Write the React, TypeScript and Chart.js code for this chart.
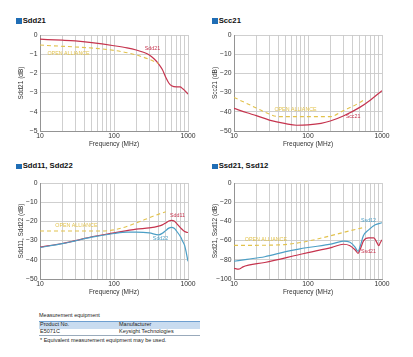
import React, { useEffect, useRef } from "react";
import { Chart, registerables } from "chart.js";

Chart.register(...registerables);

// ---------- data ----------
const xGridTicks = [10, 20, 30, 40, 50, 60, 70, 80, 90, 100, 200, 300, 400, 500, 600, 700, 800, 900, 1000];
const xLabelTicks = [10, 100, 1000];

// Sdd21
const sdd21Freq = [10, 20, 30, 50, 100, 150, 200, 250, 300, 350, 400, 450, 500, 550, 600, 700, 780, 850, 920, 1000];
const sdd21Db = [-0.22, -0.27, -0.31, -0.4, -0.56, -0.67, -0.78, -0.9, -1.04, -1.25, -1.5, -1.8, -2.2, -2.5, -2.64, -2.7, -2.7, -2.8, -2.92, -3.08];
const sdd21LimitFreq = [10, 100, 200, 300, 400];
const sdd21LimitDb = [-0.52, -0.8, -1.04, -1.27, -1.48];

// Scc21
const scc21Freq = [10, 15, 20, 30, 50, 70, 100, 150, 200, 300, 500, 700, 1000];
const scc21Db = [-38.2, -40.5, -42, -44.3, -46.2, -47, -46.8, -46, -44.8, -42.2, -37.7, -33.8, -29];
const scc21LimitFreq = [10, 20, 30, 40, 200, 300, 500, 600];
const scc21LimitDb = [-32.5, -38, -41.2, -42.5, -42.5, -39.4, -35.2, -33.2];

// Sdd11, Sdd22
const sdd11Freq = [10, 20, 30, 50, 100, 150, 200, 300, 400, 450, 500, 550, 600, 650, 700, 800, 900, 1000];
const sdd11Db = [-33.4, -31.5, -30, -28, -26, -24.8, -24, -23.4, -22.5, -21.8, -20.8, -19.8, -19.5, -19.8, -21, -23.5, -25.3, -25.8];
const sdd22Freq = [10, 20, 30, 50, 100, 150, 200, 300, 400, 450, 500, 550, 600, 650, 700, 800, 850, 900, 950, 1000];
const sdd22Db = [-33.6, -31.6, -30.1, -28.2, -26.3, -25.6, -25.6, -26, -27, -26.2, -24.8, -23.5, -23.1, -23.6, -25, -28.3, -30.5, -32.5, -36.5, -40.8];
const sddRlLimitFreq = [10, 70, 500];
const sddRlLimitDb = [-25, -25, -15];

// Ssd21, Ssd12
const ssd12Freq = [10, 15, 26, 50, 75, 100, 211, 300, 370, 430, 475, 510, 560, 660, 810, 1000];
const ssd12Db = [-81.5, -79.5, -76.8, -71.5, -68.8, -67.2, -63.5, -60.5, -61.8, -66.5, -71.2, -65.3, -55, -48.8, -43.5, -41.4];
const ssd21Freq = [10, 11.5, 12.5, 13, 26, 75, 100, 211, 300, 370, 435, 475, 510, 565, 660, 775, 850, 905, 950, 1000];
const ssd21Db = [-88.8, -89.8, -88.6, -87.6, -82.8, -74.7, -72.5, -67, -63.8, -65.3, -69.8, -73.3, -68.8, -60, -57.2, -57.2, -61.8, -65.3, -62, -59.3];
const ssdLimitFreq = [10, 40, 600];
const ssdLimitDb = [-65, -64.5, -46];

const RED = "#c6344e";
const BLUE = "#4c9fc6";
const YELLOW = "#e2c24c";
const FONT = "'Liberation Sans', Arial, sans-serif";

type Label = { text: string; f: number; v: number; color: string };

function labelPlugin(items: Label[]) {
  return {
    id: "curveLabels",
    afterDatasetsDraw(chart: any) {
      const ctx = chart.ctx;
      const xs = chart.scales.x;
      const ys = chart.scales.y;
      ctx.save();
      ctx.font = `5.3px ${FONT}`;
      ctx.textAlign = "center";
      ctx.textBaseline = "middle";
      for (const it of items) {
        ctx.fillStyle = it.color;
        ctx.fillText(it.text, xs.getPixelForValue(it.f), ys.getPixelForValue(it.v));
      }
      ctx.restore();
    },
  };
}

function ds(freq: number[], vals: number[], color: string, dashed = false) {
  return {
    data: freq.map((f, i) => ({ x: f, y: vals[i] })),
    borderColor: color,
    borderWidth: dashed ? 1.1 : 1.2,
    borderDash: dashed ? [4, 3] : [],
    pointRadius: 0,
    cubicInterpolationMode: "monotone" as const,
    fill: false,
  };
}

function makeConfig(datasets: any[], yMin: number, yStep: number, yTitle: string, labels: Label[]) {
  const yTicks: number[] = [];
  for (let v = yMin; v <= 0.0001; v += yStep) yTicks.push(Math.round(v * 1000) / 1000);
  return {
    type: "line",
    data: { datasets },
    plugins: [labelPlugin(labels)],
    options: {
      responsive: false,
      animation: false,
      devicePixelRatio: 1,
      layout: { padding: { top: 7, right: 12, left: 0, bottom: 0 } },
      plugins: { legend: { display: false }, tooltip: { enabled: false } },
      scales: {
        x: {
          type: "logarithmic",
          min: 10,
          max: 1000,
          afterBuildTicks: (s: any) => {
            s.ticks = xGridTicks.map((v) => ({ value: v }));
          },
          afterFit: (s: any) => {
            s.height = 22;
          },
          ticks: {
            autoSkip: false,
            maxRotation: 0,
            padding: 1,
            color: "#333",
            font: { family: FONT, size: 6.8 },
            callback: (v: any) => (xLabelTicks.includes(Number(v)) ? String(v) : ""),
          },
          grid: { color: "#c9c9c9", drawTicks: false, lineWidth: 0.9 },
          border: { color: "#949494" },
          title: {
            display: true,
            text: "Frequency (MHz)",
            color: "#333",
            font: { family: FONT, size: 6.5 },
            padding: { top: 0, bottom: 5 },
          },
        },
        y: {
          type: "linear",
          min: yMin,
          max: 0,
          afterBuildTicks: (s: any) => {
            s.ticks = yTicks.map((v) => ({ value: v }));
          },
          afterFit: (s: any) => {
            s.width = 40;
          },
          ticks: {
            padding: 2.5,
            color: "#333",
            font: { family: FONT, size: 6.8 },
            callback: (v: any) => (Number(v) === 0 ? "0" : "\u2212" + Math.abs(Number(v))),
          },
          grid: { color: "#c9c9c9", drawTicks: false, lineWidth: 0.9 },
          border: { color: "#949494" },
          title: {
            display: true,
            text: yTitle,
            color: "#333",
            font: { family: FONT, size: 6.5 },
            padding: { top: 17, bottom: 0 },
          },
        },
      },
    },
  };
}

const panels = [
  {
    key: "c1",
    left: 0,
    top: 28,
    cfg: () =>
      makeConfig(
        [ds(sdd21LimitFreq, sdd21LimitDb, YELLOW, true), ds(sdd21Freq, sdd21Db, RED)],
        -5,
        1,
        "Sdd21 (dB)",
        [
          { text: "Sdd21", f: 331, v: -0.73, color: RED },
          { text: "OPEN ALLIANCE", f: 24.3, v: -0.94, color: YELLOW },
        ]
      ),
  },
  {
    key: "c2",
    left: 194,
    top: 28,
    cfg: () =>
      makeConfig(
        [ds(scc21LimitFreq, scc21LimitDb, YELLOW, true), ds(scc21Freq, scc21Db, RED)],
        -50,
        10,
        "Scc21 (dB)",
        [
          { text: "OPEN ALLIANCE", f: 67.8, v: -38.9, color: YELLOW },
          { text: "Scc21", f: 406, v: -42.6, color: RED },
        ]
      ),
  },
  {
    key: "c3",
    left: 0,
    top: 176,
    cfg: () =>
      makeConfig(
        [ds(sddRlLimitFreq, sddRlLimitDb, YELLOW, true), ds(sdd22Freq, sdd22Db, BLUE), ds(sdd11Freq, sdd11Db, RED)],
        -50,
        10,
        "Sdd11, Sdd22 (dB)",
        [
          { text: "Sdd11", f: 721, v: -17.2, color: RED },
          { text: "Sdd22", f: 425, v: -28.9, color: BLUE },
          { text: "OPEN ALLIANCE", f: 31, v: -22.1, color: YELLOW },
        ]
      ),
  },
  {
    key: "c4",
    left: 194,
    top: 176,
    cfg: () =>
      makeConfig(
        [ds(ssdLimitFreq, ssdLimitDb, YELLOW, true), ds(ssd21Freq, ssd21Db, RED), ds(ssd12Freq, ssd12Db, BLUE)],
        -100,
        20,
        "Ssd21, Ssd12 (dB)",
        [
          { text: "Ssd12", f: 657, v: -38.9, color: BLUE },
          { text: "Ssd21", f: 657, v: -71.3, color: RED },
          { text: "OPEN ALLIANCE", f: 27, v: -58.9, color: YELLOW },
        ]
      ),
  },
];

const titles = [
  { text: "Sdd21", left: 16, top: 18 },
  { text: "Scc21", left: 212, top: 18 },
  { text: "Sdd11, Sdd22", left: 16, top: 163.5 },
  { text: "Ssd21, Ssd12", left: 212, top: 163.5 },
];

function ChartCanvas({ left, top, cfg }: { left: number; top: number; cfg: () => any }) {
  const ref = useRef<HTMLCanvasElement | null>(null);
  useEffect(() => {
    if (!ref.current) return;
    const chart = new Chart(ref.current, cfg());
    return () => chart.destroy();
  }, []);
  return (
    <canvas
      ref={ref}
      width={200}
      height={125}
      style={{ position: "absolute", left, top, width: 200, height: 125, display: "block" }}
    />
  );
}

export default function App() {
  const small: React.CSSProperties = { position: "absolute", fontSize: 5.5, lineHeight: "7px", color: "#222", whiteSpace: "nowrap" };
  return (
    <div
      style={{
        position: "absolute",
        left: 0,
        top: 0,
        width: 413,
        height: 357,
        background: "#fff",
        fontFamily: FONT,
        overflow: "hidden",
      }}
    >
      {titles.map((t) => (
        <div key={t.text}>
          <div style={{ position: "absolute", left: t.left, top: t.top, width: 5.5, height: 5.5, background: "#1f6db5" }} />
          <div
            style={{
              position: "absolute",
              left: t.left + 6.7,
              top: t.top - 2.4,
              fontSize: 7.7,
              lineHeight: "10px",
              fontWeight: "bold",
              color: "#111",
              whiteSpace: "nowrap",
            }}
          >
            {t.text}
          </div>
        </div>
      ))}
      {panels.map((p) => (
        <ChartCanvas key={p.key} left={p.left} top={p.top} cfg={p.cfg} />
      ))}
      <div style={{ ...small, left: 39, top: 311.5 }}>Measurement equipment</div>
      <div
        style={{
          position: "absolute",
          left: 39,
          top: 321,
          width: 161,
          height: 7,
          background: "#c9dcf0",
          borderTop: "0.8px solid #6f9fd0",
        }}
      />
      <div style={{ ...small, left: 40, top: 321 }}>Product No.</div>
      <div style={{ ...small, left: 119, top: 321 }}>Manufacturer</div>
      <div style={{ ...small, left: 40, top: 328 }}>E5071C</div>
      <div style={{ ...small, left: 119, top: 328 }}>Keysight Technologies</div>
      <div style={{ position: "absolute", left: 39, top: 334.5, width: 161, height: 0, borderTop: "0.8px solid #9ab" }} />
      <div style={{ ...small, left: 40, top: 336.5 }}>* Equivalent measurement equipment may be used.</div>
    </div>
  );
}
